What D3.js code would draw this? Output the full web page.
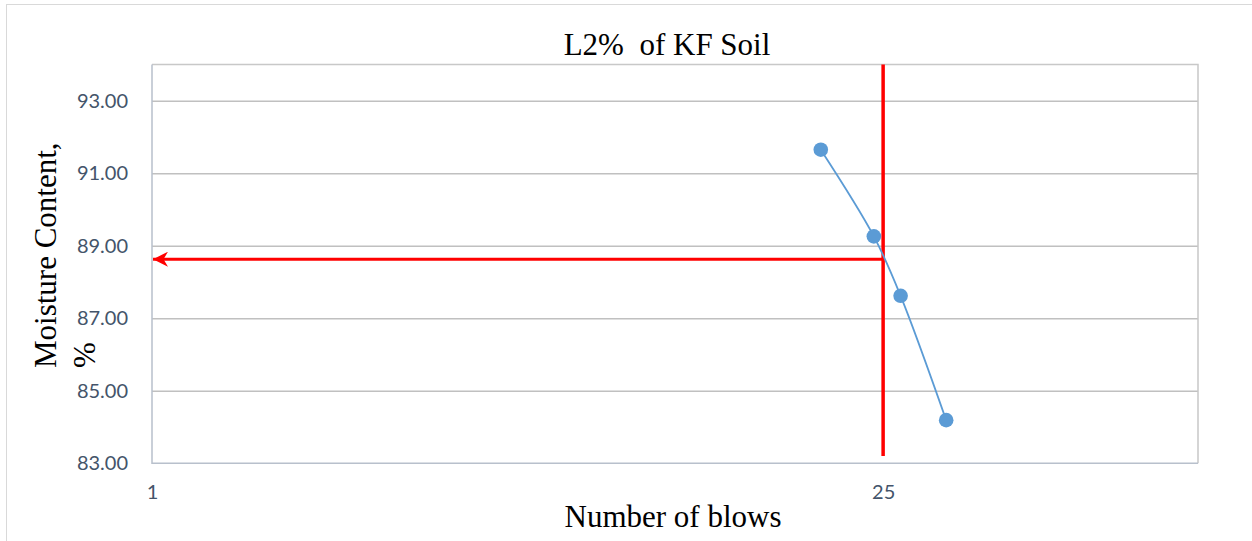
<!DOCTYPE html>
<html>
<head>
<meta charset="utf-8">
<script src="https://cdn.jsdelivr.net/npm/d3@7"></script>
<style>
  body { margin: 0; background: #fff; }
  svg { display: block; }
</style>
</head>
<body>
<svg></svg>
<script>
// ===== données ===== //
const blows = [19, 24, 27, 33];
const moisture = [91.65, 89.26, 87.62, 84.19];
const yTicks = [83, 85, 87, 89, 91, 93];
const xTicks = [1, 25];
const llBlows = 25;        // ligne verticale (25 coups)
const llMoisture = 88.63;  // flèche horizontale -> limite de liquidité
const llBottom = 83.2;

const W = 1252, H = 541;
const margin = { left: 152, right: W - 1198, top: 64.5, bottom: H - 463.3 };

const svg = d3.select("svg").attr("width", W).attr("height", H);

// cadre extérieur
svg.append("rect")
  .attr("x", 6.5).attr("y", 4.5)
  .attr("width", W + 10).attr("height", H + 10)
  .attr("fill", "none").attr("stroke", "#d9d9d9").attr("stroke-width", 1);

const x = d3.scaleLog().domain([1, 100]).range([margin.left, W - margin.right]);
const y = d3.scaleLinear().domain([83, 94]).range([H - margin.bottom, margin.top]);

// grille horizontale
svg.append("g")
  .attr("transform", `translate(${margin.left},0)`)
  .call(d3.axisLeft(y).tickValues(yTicks.slice(1)).tickSize(-(x.range()[1] - x.range()[0])).tickFormat(""))
  .call(g => g.select(".domain").remove())
  .call(g => g.selectAll("line").attr("stroke", "#c0c0c0").attr("stroke-width", 1.5));

// bord haut et droit
svg.append("path")
  .attr("d", `M${x.range()[0]},${y(94)}H${x.range()[1]}V${y(83)}`)
  .attr("fill", "none").attr("stroke", "#c8c8c8").attr("stroke-width", 1.5);

// axes gauche et bas
svg.append("path")
  .attr("d", `M${x.range()[0]},${y(94)}V${y(83)}H${x.range()[1]}`)
  .attr("fill", "none").attr("stroke", "#b8c0cc").attr("stroke-width", 1.5);

// étiquettes Y
svg.append("g")
  .attr("transform", `translate(${margin.left},0)`)
  .call(d3.axisLeft(y).tickValues(yTicks).tickSize(0).tickPadding(24).tickFormat(d3.format(".2f")))
  .call(g => g.select(".domain").remove())
  .call(g => g.selectAll("text")
    .attr("fill", "#44546a").attr("font-family", "Lato, 'Open Sans', sans-serif").attr("font-size", 20));

// étiquettes X
svg.append("g")
  .attr("transform", `translate(0,${y(83)})`)
  .call(d3.axisBottom(x).tickValues(xTicks).tickSize(0).tickPadding(22).tickFormat(d3.format("d")))
  .call(g => g.select(".domain").remove())
  .call(g => g.selectAll("text")
    .attr("fill", "#44546a").attr("font-family", "Lato, 'Open Sans', sans-serif").attr("font-size", 20));

// lignes rouges
svg.append("defs").append("marker")
  .attr("id", "arrow")
  .attr("viewBox", "0 0 10 10")
  .attr("refX", 10).attr("refY", 5)
  .attr("markerWidth", 5).attr("markerHeight", 5)
  .attr("markerUnits", "strokeWidth")
  .attr("orient", "auto")
  .append("path")
  .attr("d", "M0,0 L10,5 L0,10 L3,5 Z")
  .attr("fill", "#ff0000");

svg.append("line")
  .attr("x1", x(llBlows)).attr("x2", x(1) + 1)
  .attr("y1", y(llMoisture)).attr("y2", y(llMoisture))
  .attr("stroke", "#ff0000").attr("stroke-width", 3)
  .attr("marker-end", "url(#arrow)");

svg.append("line")
  .attr("x1", x(llBlows)).attr("x2", x(llBlows))
  .attr("y1", y(94)).attr("y2", y(llBottom))
  .attr("stroke", "#ff0000").attr("stroke-width", 3.5);

// série
const pts = blows.map((b, i) => [b, moisture[i]]);
svg.append("path")
  .datum(pts)
  .attr("d", d3.line().x(d => x(d[0])).y(d => y(d[1])).curve(d3.curveCatmullRom.alpha(0.5)))
  .attr("fill", "none").attr("stroke", "#5b9bd5").attr("stroke-width", 1.8);

svg.selectAll("circle.pt")
  .data(pts)
  .enter().append("circle")
  .attr("class", "pt")
  .attr("cx", d => x(d[0])).attr("cy", d => y(d[1]))
  .attr("r", 7.3)
  .attr("fill", "#5b9bd5");

// titres
const serif = "'Liberation Serif', 'Times New Roman', serif";
svg.append("text")
  .attr("x", 667).attr("y", 55)
  .attr("text-anchor", "middle")
  .attr("font-family", serif).attr("font-size", 31).attr("fill", "#000")
  .attr("xml:space", "preserve")
  .text("L2%  of KF Soil");

svg.append("text")
  .attr("x", 673).attr("y", 527)
  .attr("text-anchor", "middle")
  .attr("font-family", serif).attr("font-size", 31).attr("fill", "#000")
  .text("Number of blows");

const yTitle = svg.append("text")
  .attr("transform", "translate(0,368) rotate(-90)")
  .attr("font-family", serif).attr("font-size", 31).attr("fill", "#000");
yTitle.append("tspan").attr("x", 0).attr("y", 56).text("Moisture Content,");
yTitle.append("tspan").attr("x", 0).attr("y", 95).text("%");
</script>
</body>
</html>
